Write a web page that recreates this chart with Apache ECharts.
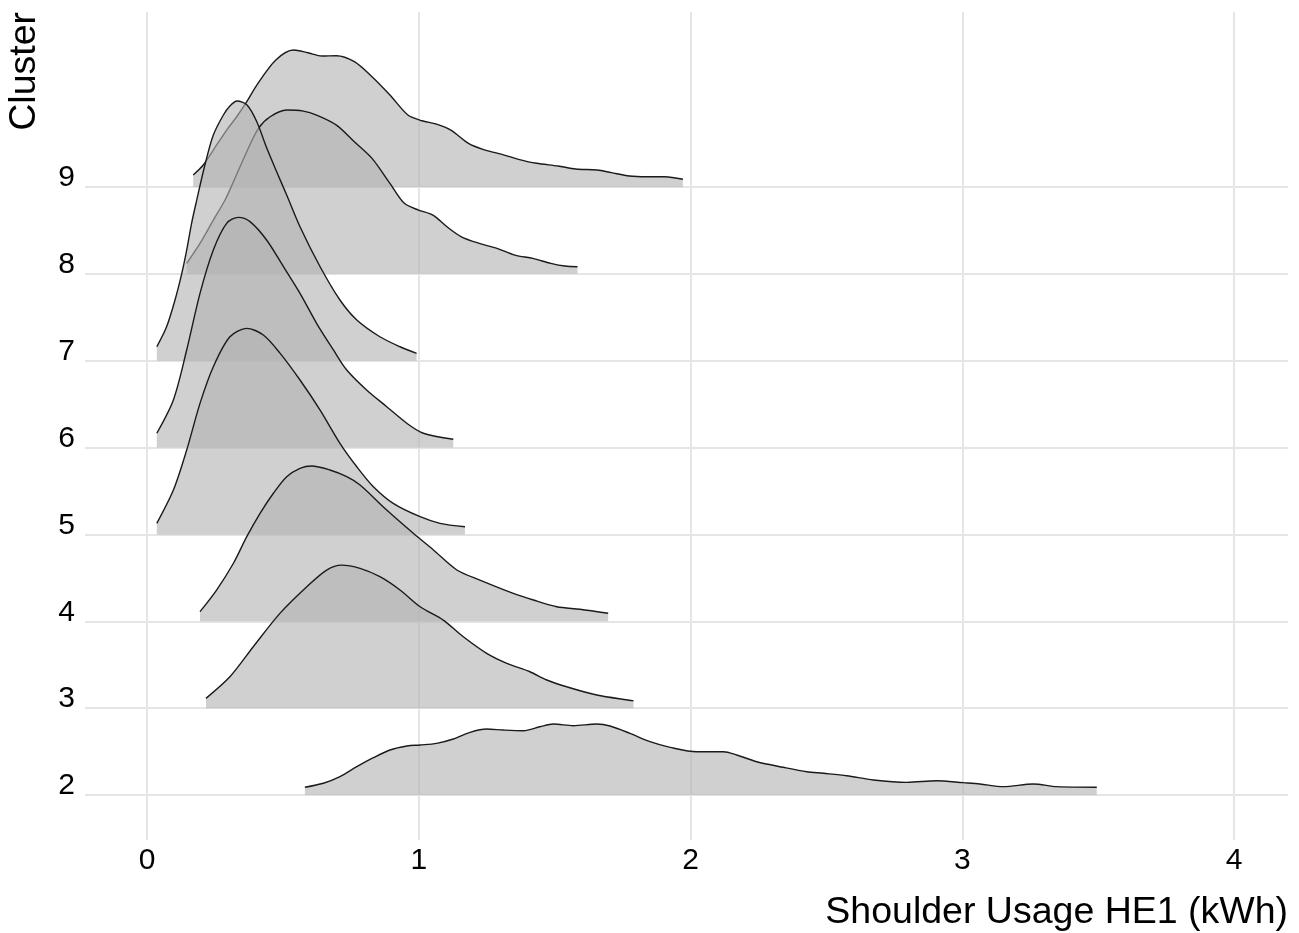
<!DOCTYPE html>
<html>
<head>
<meta charset="utf-8">
<title>Shoulder Usage HE1 by Cluster</title>
<script src="https://cdn.jsdelivr.net/npm/echarts@6/dist/echarts.min.js"></script>
<style>
  html, body { margin: 0; padding: 0; background: #ffffff; }
  #chart { width: 1299px; height: 933px; }
</style>
</head>
<body>
<div id="chart"></div>
<script>
// Cluster rows (bottom to top) and x-axis ticks
const clusters = [2, 3, 4, 5, 6, 7, 8, 9];
const xTicks = [0, 1, 2, 3, 4];

// Density ridges: [usage kWh, ridge height in row units]
const ridge9 = [[0.170,0.138],[0.207,0.253],[0.244,0.426],[0.293,0.656],[0.330,0.809],[0.367,0.982],[0.404,1.174],[0.474,1.462],[0.539,1.577],[0.592,1.546],[0.644,1.508],[0.697,1.512],[0.763,1.443],[0.828,1.270],[0.894,1.059],[0.960,0.829],[1.012,0.763],[1.065,0.725],[1.118,0.656],[1.183,0.503],[1.236,0.434],[1.315,0.368],[1.367,0.319],[1.433,0.273],[1.512,0.242],[1.578,0.207],[1.656,0.196],[1.709,0.165],[1.775,0.127],[1.840,0.119],[1.906,0.119],[1.972,0.089]];
const ridge8 = [[0.146,0.121],[0.195,0.351],[0.244,0.619],[0.287,0.850],[0.318,1.060],[0.367,1.406],[0.410,1.675],[0.453,1.809],[0.514,1.886],[0.575,1.874],[0.624,1.828],[0.697,1.713],[0.763,1.521],[0.828,1.330],[0.894,1.042],[0.947,0.812],[0.999,0.735],[1.052,0.677],[1.104,0.542],[1.157,0.427],[1.223,0.351],[1.288,0.294],[1.354,0.216],[1.420,0.178],[1.486,0.121],[1.538,0.090],[1.584,0.082]];
const ridge7 = [[0.036,0.161],[0.072,0.391],[0.103,0.699],[0.128,1.006],[0.146,1.274],[0.164,1.582],[0.183,1.850],[0.213,2.253],[0.244,2.598],[0.281,2.829],[0.305,2.932],[0.331,2.990],[0.368,2.944],[0.404,2.752],[0.441,2.445],[0.477,2.176],[0.514,1.908],[0.563,1.543],[0.637,1.082],[0.710,0.699],[0.772,0.469],[0.857,0.276],[0.931,0.161],[0.992,0.085]];
const ridge6 = [[0.036,0.165],[0.097,0.548],[0.146,1.124],[0.195,1.776],[0.244,2.275],[0.293,2.582],[0.336,2.651],[0.379,2.601],[0.440,2.390],[0.502,2.083],[0.563,1.776],[0.624,1.431],[0.686,1.124],[0.735,0.893],[0.808,0.663],[0.882,0.471],[0.956,0.280],[1.017,0.165],[1.127,0.096]];
const ridge5 = [[0.036,0.128],[0.097,0.511],[0.146,0.972],[0.195,1.509],[0.244,1.931],[0.305,2.276],[0.367,2.373],[0.428,2.296],[0.490,2.085],[0.563,1.778],[0.637,1.432],[0.710,1.049],[0.772,0.779],[0.833,0.549],[0.906,0.358],[1.005,0.204],[1.078,0.128],[1.170,0.089]];
const ridge4 = [[0.195,0.111],[0.256,0.360],[0.318,0.668],[0.367,0.974],[0.416,1.243],[0.465,1.474],[0.514,1.665],[0.563,1.761],[0.606,1.788],[0.673,1.742],[0.735,1.665],[0.784,1.569],[0.882,1.281],[0.980,1.013],[1.054,0.821],[1.140,0.591],[1.225,0.475],[1.348,0.322],[1.422,0.245],[1.508,0.168],[1.593,0.138],[1.697,0.092]];
const ridge3 = [[0.217,0.113],[0.305,0.361],[0.391,0.707],[0.489,1.091],[0.588,1.398],[0.661,1.590],[0.716,1.647],[0.784,1.609],[0.857,1.513],[0.931,1.360],[1.005,1.167],[1.090,1.014],[1.164,0.822],[1.250,0.631],[1.324,0.516],[1.409,0.419],[1.471,0.324],[1.544,0.246],[1.655,0.151],[1.790,0.085]];
const ridge2 = [[0.581,0.089],[0.649,0.135],[0.710,0.211],[0.772,0.326],[0.833,0.429],[0.894,0.518],[0.956,0.564],[1.005,0.576],[1.066,0.595],[1.127,0.645],[1.189,0.722],[1.250,0.760],[1.311,0.748],[1.385,0.740],[1.446,0.786],[1.495,0.817],[1.569,0.798],[1.655,0.817],[1.704,0.794],[1.777,0.710],[1.851,0.614],[1.925,0.549],[2.023,0.498],[2.121,0.498],[2.170,0.461],[2.244,0.383],[2.341,0.319],[2.428,0.268],[2.489,0.250],[2.575,0.222],[2.673,0.173],[2.796,0.146],[2.906,0.165],[3.004,0.142],[3.065,0.127],[3.151,0.096],[3.261,0.127],[3.348,0.096],[3.495,0.089]];

const ridges = { 2: ridge2, 3: ridge3, 4: ridge4, 5: ridge5, 6: ridge6, 7: ridge7, 8: ridge8, 9: ridge9 };

const FONT = '"Liberation Sans", Arial, Helvetica, sans-serif';
const GRID_COLOR = '#e5e5e5';

// Panel range: a little padding around the data, as ggplot expands it
const X_MIN = -0.2282, X_MAX = 4.1987;
const Y_MIN = 1.482, Y_MAX = 11.015;

// Gridlines drawn as reference lines so they sit exactly on clusters and ticks
const gridSeries = {
  type: 'line',
  data: [],
  silent: true,
  z: 1,
  markLine: {
    silent: true,
    symbol: 'none',
    z: 1,
    animation: false,
    label: { show: false },
    emphasis: { disabled: true },
    lineStyle: { color: GRID_COLOR, width: 2, type: 'solid' },
    data: clusters.map(k => ({ yAxis: k })).concat(xTicks.map(v => ({ xAxis: v })))
  }
};

// Top ridge drawn first so lower ridges overlay it
const ridgeSeries = clusters.slice().reverse().map(k => ({
  name: 'Cluster ' + k,
  type: 'line',
  data: ridges[k].map(([x, h]) => [x, k + h]),
  smooth: 0.3,
  showSymbol: false,
  symbol: 'none',
  z: 2 + (9 - k),
  lineStyle: { color: '#1a1a1a', width: 1.4 },
  areaStyle: { origin: k, color: 'rgba(179,179,179,0.62)', opacity: 1 },
  emphasis: { disabled: true }
}));

const chart = echarts.init(document.getElementById('chart'), null, { renderer: 'canvas' });
chart.setOption({
  animation: false,
  backgroundColor: '#ffffff',
  grid: { left: 85, right: 11, top: 12, bottom: 93, containLabel: false },
  xAxis: {
    type: 'value',
    min: X_MIN,
    max: X_MAX,
    axisLine: { show: false },
    axisTick: { show: false },
    splitLine: { show: false },
    axisLabel: {
      customValues: xTicks,
      color: '#000000',
      fontFamily: FONT,
      fontSize: 30,
      lineHeight: 30,
      margin: 6,
      formatter: v => String(v)
    }
  },
  yAxis: {
    type: 'value',
    min: Y_MIN,
    max: Y_MAX,
    axisLine: { show: false },
    axisTick: { show: false },
    splitLine: { show: false },
    axisLabel: {
      customValues: clusters,
      color: '#000000',
      fontFamily: FONT,
      fontSize: 30,
      lineHeight: 18,
      verticalAlign: 'bottom',
      margin: 10,
      formatter: v => String(v)
    }
  },
  graphic: [
    {
      type: 'text',
      x: 1288,
      y: 913,
      style: {
        text: 'Shoulder Usage HE1 (kWh)',
        fontFamily: FONT,
        fontSize: 37.5,
        fill: '#000000',
        textAlign: 'right',
        textVerticalAlign: 'middle'
      }
    },
    {
      type: 'text',
      x: 25,
      y: 12,
      rotation: Math.PI / 2,
      style: {
        text: 'Cluster',
        fontFamily: FONT,
        fontSize: 37.5,
        fill: '#000000',
        textAlign: 'right',
        textVerticalAlign: 'middle'
      }
    }
  ],
  series: [gridSeries].concat(ridgeSeries)
});
</script>
</body>
</html>
